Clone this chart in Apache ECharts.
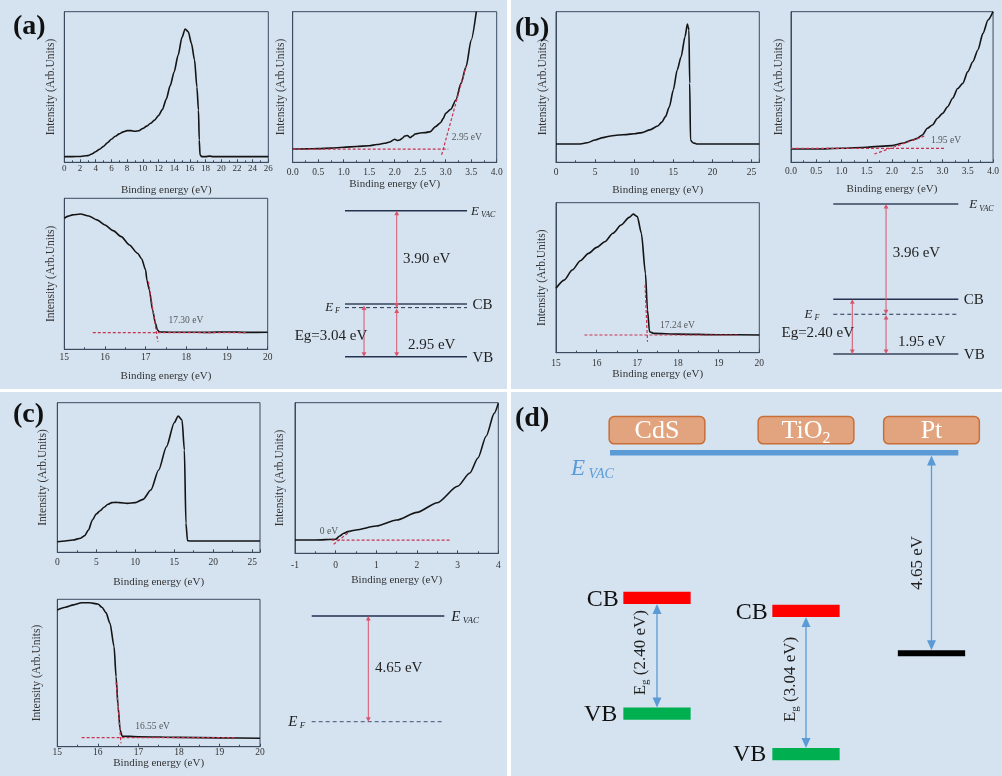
<!DOCTYPE html>
<html><head><meta charset="utf-8">
<script src="https://cdn.jsdelivr.net/npm/echarts@6/dist/echarts.min.js"></script>
<style>
html,body{margin:0;padding:0;background:#ffffff;width:1002px;height:776px;overflow:hidden;}
.p{position:absolute;background:#d5e3f1;}
</style></head><body>
<div id="pa" class="p" style="left:0;top:0;width:507px;height:389px"></div>
<div id="pb" class="p" style="left:511px;top:0;width:491px;height:389px"></div>
<div id="pc" class="p" style="left:0;top:392px;width:507px;height:384px"></div>
<div id="pd" class="p" style="left:511px;top:392px;width:491px;height:384px"></div>
<script>
// ---------------- DATA ----------------
const xTitle = 'Binding energy (eV)';
const yTitle = 'Intensity (Arb.Units)';

// (a) TiO2 UPS
const a1Data = [[0,3.8],[1,3.8],[2,3.9],[2.5,4.2],[3,4.4],[3.5,5.5],[4,7],[4.5,8.7],[5,10.6],[5.5,13],[6,15.3],[6.5,17.3],[7,18.9],[7.5,20.2],[8,21],[8.5,21],[9,20.6],[9.5,20.9],[10,22.4],[10.5,24],[11,25.9],[11.5,28],[12,31],[12.5,35],[13,42],[13.5,51],[14,60],[14.5,71],[15,83],[15.4,88.5],[15.8,86.7],[16.2,79],[16.6,68],[16.9,50],[17.1,34.7],[17.2,14.8],[17.3,4.9],[17.5,3.8],[18,3.8],[18.5,4.1],[19,3.8],[20,3.8],[22,3.8],[24,3.8],[26,3.8]];
const a2Data = [[0,8.8],[0.25,8.9],[0.5,9.1],[0.75,9.4],[1.0,10],[1.25,10.5],[1.5,11],[1.65,11.8],[1.8,12.6],[1.9,13.5],[2.0,15.3],[2.05,14.5],[2.1,14.8],[2.15,16],[2.2,17.5],[2.25,17.8],[2.3,16.4],[2.35,17.5],[2.4,18.8],[2.5,19.5],[2.6,19.7],[2.7,20.4],[2.8,23.7],[2.9,26.3],[2.95,29],[3.0,32.5],[3.1,35.2],[3.2,41.4],[3.3,52.4],[3.4,63.5],[3.5,81.2],[3.6,100]];
const a2Base = [[0,8.8],[3.05,8.8]];
const a2Tangent = [[2.92,4.9],[3.4,64]];
const a2Onset = 2.95;
const a3Data = [[15,86.8],[15.1,88.2],[15.2,89],[15.4,89.6],[15.6,88.3],[15.8,85.7],[16,82.3],[16.2,78.6],[16.4,74.6],[16.6,69.1],[16.8,63.6],[16.9,60],[17,52.5],[17.03,45.9],[17.09,39.3],[17.17,26],[17.24,17.2],[17.29,12.8],[17.34,11.5],[17.6,11.3],[18,11.3],[18.5,11.2],[19,11.5],[19.5,11.2],[20,11.3]];
const a3Base = [[15.7,11],[19.5,11]];
const a3Tangent = [[17.07,44.8],[17.3,5]];
const a3Cutoff = 17.30;
const aWorkFunction = 3.90, aVBM = 2.95, aEg = 3.04;

// (b) CdS UPS
const b1Data = [[0,12.2],[2,12.2],[3,12.2],[3.5,12.5],[4,13],[5,14.8],[6,16.4],[7,17.5],[8,18.1],[9,18.4],[10,19],[11,19.7],[12,21.5],[13,24.1],[13.5,26.5],[14,30.3],[14.5,36.9],[15,48],[15.5,61.3],[16,70.1],[16.5,83.4],[16.8,91.8],[16.9,90],[17.0,87.8],[17.1,52.4],[17.2,14.8],[17.5,13],[18,12.2],[20,12.2],[22,12.2],[24,12.2],[26,12.2]];
const b2Data = [[0,8.8],[0.5,8.8],[1.0,9.3],[1.5,10],[2.0,11.1],[2.2,12.6],[2.4,14.8],[2.5,15.9],[2.6,18.1],[2.7,22.6],[2.8,24.8],[2.9,29.2],[3.0,32.5],[3.1,36.9],[3.2,42.5],[3.3,49],[3.4,52.4],[3.5,60.2],[3.6,66.8],[3.7,74.6],[3.8,85.6],[3.9,94.5],[4.0,100]];
const b2Base = [[0,9.3],[3.05,9.3]];
const b2Tangent = [[1.65,5.5],[2.65,17.5]];
const b2Onset = 1.95;
const b3Data = [[15,42.9],[15.2,48.4],[15.4,55.1],[15.6,61.3],[15.8,66.2],[16,70.2],[16.2,74],[16.4,79.6],[16.6,85.1],[16.8,90.2],[16.9,92.4],[17,90.7],[17.1,79.6],[17.2,52.9],[17.25,28.4],[17.3,14],[17.4,12.9],[18,12.4],[19,12],[20,11.8]];
const b3Base = [[15.7,11.8],[19.5,11.8]];
const b3Tangent = [[17.19,45.1],[17.25,7.3]];
const b3Cutoff = 17.24;
const bWorkFunction = 3.96, bVBM = 1.95, bEg = 2.40;

// (c) Pt UPS
const c1Data = [[0,7.1],[1,7.6],[2,8.2],[3,9.4],[3.5,11.1],[4,14.9],[4.5,21.6],[5,25.6],[5.5,27.8],[6,30.1],[6.5,32.1],[7,33.2],[7.5,33.4],[8,33.2],[9,32.7],[10,33.2],[11,35.4],[12,41.6],[13,55],[14,70.6],[15,86.6],[15.5,91.1],[16,88.4],[16.3,68.4],[16.5,19.4],[16.7,7.8],[17,7.6],[20,7.6],[23,7.6],[26,7.6]];
const c2Data = [[-1,8.8],[-0.5,8.8],[0,9.3],[0.1,11.5],[0.2,13.3],[0.3,14.4],[0.5,15.5],[1.0,18.1],[1.5,22.1],[2.0,27.2],[2.5,33.6],[3.0,44.5],[3.3,53.3],[3.5,63.3],[3.7,77.7],[3.9,92.9],[4.0,99.6]];
const c2Base = [[-0.1,8.8],[2.8,8.8]];
const c2Tangent = [[-0.05,6],[0.35,14.4]];
const c2Onset = 0;
const c3Data = [[15,92.8],[15.2,94.6],[15.4,96.2],[15.6,97.7],[15.8,97.7],[16,96.8],[16.1,94.6],[16.2,91],[16.3,83.7],[16.4,67.9],[16.45,47.5],[16.5,27.1],[16.55,11.3],[16.6,7.2],[17,6.8],[18,6.3],[19,6],[20,5.7]];
const c3Base = [[15.6,6.1],[19.4,6.1]];
const c3Tangent = [[16.45,43.7],[16.57,2.3]];
const c3Cutoff = 16.55;
const cWorkFunction = 4.65;

// (d) band alignment (eV vs vacuum), derived from panels a-c
const dMaterials = ['CdS', 'TiO2', 'Pt'];
const dCB = [-(bWorkFunction + bVBM) + bEg, -(aWorkFunction + aVBM) + aEg];
const dVB = [-(bWorkFunction + bVBM), -(aWorkFunction + aVBM)];
const dEg = [bEg, aEg];
const dPt = -cWorkFunction;

// ---------------- STYLE / LAYOUT ----------------
const SERIF = '"Liberation Serif","Times New Roman",serif';
const AX = '#3b4a5f';
const INK = '#1f1f1f';
const RED = '#c8334d';
const ARW = '#d9536b';
const fmt = v => v.toFixed(2) + ' eV';

function subText(main, sub, size, color, italic, padTop) {
  return {
    text: '{m|' + main + '}{g| }{s|' + sub + '}',
    rich: {
      m: {fontSize: size, fontStyle: italic ? 'italic' : 'normal', fontFamily: SERIF, fill: color},
      g: {fontSize: size * 0.6, fontFamily: SERIF, fill: color},
      s: {fontSize: Math.round(size * 0.62), fontStyle: italic ? 'italic' : 'normal', fontFamily: SERIF, fill: color, padding: [padTop, 0, 0, 0]}
    }
  };
}

function spectrum(g, c) {
  const iv = c.interval;
  const grid = {left: c.grid[0], top: c.grid[1], width: c.grid[2], height: c.grid[3], show: true, borderColor: AX, borderWidth: 1, backgroundColor: 'transparent'};
  const xAxis = {
    gridIndex: g, type: 'value', min: c.min, max: c.max, interval: iv,
    axisLine: {show: true, onZero: false, lineStyle: {color: AX, width: 1}},
    axisTick: {show: true, inside: true, length: 3, lineStyle: {color: AX}},
    minorTick: {show: true, splitNumber: c.minor, length: 2, lineStyle: {color: AX}},
    axisLabel: {fontSize: c.fs || 9.5, fontFamily: SERIF, color: '#333', margin: c.lm,
      formatter: v => Math.abs(v / iv - Math.round(v / iv)) < 1e-6 ? v.toFixed(c.dec) : ''},
    splitLine: {show: false},
    name: xTitle, nameLocation: 'middle', nameGap: c.xg,
    nameTextStyle: {fontSize: 11, fontFamily: SERIF, color: '#333'}
  };
  const yAxis = {
    gridIndex: g, type: 'value', min: 0, max: 100,
    axisLine: {show: true, onZero: false, lineStyle: {color: AX, width: 1}},
    axisTick: {show: false}, axisLabel: {show: false}, splitLine: {show: false},
    name: yTitle, nameLocation: 'middle', nameGap: c.yg, nameRotate: 90,
    nameTextStyle: {fontSize: 11.5, fontFamily: SERIF, color: '#333'}
  };
  const series = [{
    type: 'line', xAxisIndex: g, yAxisIndex: g, data: c.data, symbol: 'none',
    smooth: 0.25, smoothMonotone: 'x', lineStyle: {color: '#141414', width: 1.6}, z: 3, silent: true
  }];
  if (c.base) {
    [c.base, c.tangent].forEach(d => series.push({
      type: 'line', xAxisIndex: g, yAxisIndex: g, data: d, symbol: 'none',
      lineStyle: {color: RED, width: 1.2, type: [3, 2]}, z: 4, silent: true
    }));
    series.push({
      type: 'scatter', xAxisIndex: g, yAxisIndex: g, data: [c.labelAt], symbolSize: 0, silent: true, z: 5,
      label: {show: true, position: 'right', distance: 0, formatter: c.label, fontSize: 9.5, fontFamily: SERIF, color: '#333'}
    });
  }
  return {grid, xAxis, yAxis, series};
}

const LSTYLE = {
  dark: {color: '#22324f', width: 1.4},
  gray: {color: '#5d6c80', width: 2},
  dash: {color: '#22324f', width: 1, dash: [4, 3]},
  grayDash: {color: '#3f5272', width: 1, dash: [4, 3]}
};

function arrowEls(x, ya, yb, color, lw, hl, hw) {
  const y1 = Math.min(ya, yb), y2 = Math.max(ya, yb);
  return [
    {type: 'line', shape: {x1: x, y1: y1 + hl * 0.5, x2: x, y2: y2 - hl * 0.5}, style: {stroke: color, lineWidth: lw}},
    {type: 'polygon', shape: {points: [[x, y1], [x - hw, y1 + hl], [x + hw, y1 + hl]]}, style: {fill: color}},
    {type: 'polygon', shape: {points: [[x, y2], [x - hw, y2 - hl], [x + hw, y2 - hl]]}, style: {fill: color}}
  ];
}

function diagram(g, c) {
  const grid = {left: c.grid[0], top: c.grid[1], width: c.grid[2], height: c.grid[3], show: false};
  const xAxis = {gridIndex: g, type: 'value', min: 0, max: 100, show: false};
  const yAxis = {gridIndex: g, type: 'value', min: 0, max: 100, show: false};
  const levelSeries = {
    type: 'custom', xAxisIndex: g, yAxisIndex: g, silent: true, z: 5,
    data: c.levels.map(l => [0, l.y]),
    renderItem(params, api) {
      const l = c.levels[params.dataIndex];
      const p1 = api.coord([0, l.y]), p2 = api.coord([100, l.y]);
      const st = LSTYLE[l.style];
      const ch = [{type: 'line', shape: {x1: p1[0], y1: p1[1], x2: p2[0], y2: p2[1]},
        style: {stroke: st.color, lineWidth: st.width, lineDash: st.dash}}];
      if (l.right) {
        const t = typeof l.right === 'string' ? {text: l.right, fontSize: 15, fontFamily: SERIF, fill: INK} : l.right;
        ch.push({type: 'text', x: p2[0] + l.rdx, y: p2[1] + 1, style: Object.assign({align: 'left', verticalAlign: 'middle'}, t)});
      }
      if (l.left) {
        ch.push({type: 'text', x: p1[0] - l.ldx, y: p1[1], style: Object.assign({align: 'right', verticalAlign: 'middle'}, l.left)});
      }
      return {type: 'group', children: ch};
    }
  };
  const arrowSeries = {
    type: 'custom', xAxisIndex: g, yAxisIndex: g, silent: true, z: 6,
    data: c.arrows.map(a => [a.x, a.y1]),
    renderItem(params, api) {
      const a = c.arrows[params.dataIndex];
      const p1 = api.coord([a.x, a.y1]), p2 = api.coord([a.x, a.y2]);
      const ch = arrowEls(p1[0], p1[1], p2[1], ARW, 1, 4.5, 2.4);
      const lp = api.coord([a.lx, a.ly]);
      ch.push({type: 'text', x: lp[0], y: lp[1], style: {text: a.label, fontSize: 15, fontFamily: SERIF, fill: INK, align: a.align || 'left', verticalAlign: 'middle'}});
      return {type: 'group', children: ch};
    }
  };
  return {grid, xAxis, yAxis, series: [levelSeries, arrowSeries]};
}

function build(parts, titleCfg) {
  const opt = {animation: false, backgroundColor: 'transparent', grid: [], xAxis: [], yAxis: [], series: [],
    title: {text: titleCfg.text, left: titleCfg.left, top: titleCfg.top, padding: 0,
      textStyle: {fontFamily: SERIF, fontWeight: 'bold', fontSize: 28, color: '#111'}}};
  parts.forEach(p => { opt.grid.push(p.grid); opt.xAxis.push(p.xAxis); opt.yAxis.push(p.yAxis); opt.series.push(...p.series); });
  return opt;
}

// ---------------- PANEL (a) ----------------
const evacA = subText('E', 'VAC', 13, INK, true, 7);
const efA = subText('E', 'F', 13, INK, true, 7);
const chartA = echarts.init(document.getElementById('pa'), null, {renderer: 'canvas'});
chartA.setOption(build([
  spectrum(0, {grid: [64.3, 11.7, 204, 150.6], min: 0, max: 26, interval: 2, minor: 2, dec: 0, lm: 1.5, xg: 22, yg: 7.5, fs: 9, data: a1Data}),
  spectrum(1, {grid: [292.7, 11.7, 204, 150.6], min: 0, max: 4, interval: 0.5, minor: 2, dec: 1, lm: 5, xg: 16, yg: 6,
    data: a2Data, base: a2Base, tangent: a2Tangent, label: fmt(a2Onset), labelAt: [3.12, 16.6]}),
  spectrum(2, {grid: [64.3, 198.3, 203.4, 151], min: 15, max: 20, interval: 1, minor: 2, dec: 0, lm: 3, xg: 21, yg: 7.5,
    data: a3Data, base: a3Base, tangent: a3Tangent, label: fmt(a3Cutoff), labelAt: [17.56, 19]}),
  diagram(3, {grid: [345, 210.7, 122, 146],
    levels: [
      {y: 100, style: 'dark', right: evacA, rdx: 4},
      {y: 36.1, style: 'gray', right: 'CB', rdx: 5.5},
      {y: 33.6, style: 'dash', left: efA, ldx: 5},
      {y: 0, style: 'dark', right: 'VB', rdx: 5.5}
    ],
    arrows: [
      {x: 42.4, y1: 100, y2: 33.6, label: fmt(aWorkFunction), lx: 47.5, ly: 66.8},
      {x: 42.4, y1: 33.0, y2: 0, label: fmt(aVBM), lx: 51.6, ly: 8},
      {x: 15.6, y1: 35, y2: 0, label: 'Eg=' + fmt(aEg), lx: -11.5, ly: 14.4, align: 'center'}
    ]})
], {text: '(a)', left: 13, top: 13}));

// ---------------- PANEL (b) ----------------
const evacB = subText('E', 'VAC', 13, INK, true, 7);
const efB = subText('E', 'F', 13, INK, true, 7);
const chartB = echarts.init(document.getElementById('pb'), null, {renderer: 'canvas'});
chartB.setOption(build([
  spectrum(0, {grid: [45, 11.7, 203.3, 150.6], min: 0, max: 26, interval: 5, minor: 2, dec: 0, lm: 5.5, xg: 22, yg: 6.7, data: b1Data}),
  spectrum(1, {grid: [280, 11.7, 204, 150.6], min: 0, max: 4, interval: 0.5, minor: 2, dec: 1, lm: 4.5, xg: 21.5, yg: 6,
    data: b2Data, base: b2Base, tangent: b2Tangent, label: fmt(b2Onset), labelAt: [2.77, 14.8]}),
  spectrum(2, {grid: [45, 202.7, 203.3, 150], min: 15, max: 20, interval: 1, minor: 2, dec: 0, lm: 5.5, xg: 16, yg: 7.7,
    data: b3Data, base: b3Base, tangent: b3Tangent, label: fmt(b3Cutoff), labelAt: [17.56, 18.4]}),
  diagram(3, {grid: [322.3, 204, 125, 150],
    levels: [
      {y: 100, style: 'gray', right: evacB, rdx: 11},
      {y: 36.5, style: 'dark', right: 'CB', rdx: 5.5},
      {y: 26.5, style: 'dash', left: efB, ldx: 14},
      {y: 0, style: 'gray', right: 'VB', rdx: 5.5}
    ],
    arrows: [
      {x: 42.2, y1: 100, y2: 26.5, label: fmt(bWorkFunction), lx: 47.5, ly: 67.5},
      {x: 42.2, y1: 26, y2: 0, label: fmt(bVBM), lx: 51.8, ly: 8.2},
      {x: 15.2, y1: 36.5, y2: 0, label: 'Eg=' + fmt(bEg), lx: -12.4, ly: 14.2, align: 'center'}
    ]})
], {text: '(b)', left: 4, top: 15}));

// ---------------- PANEL (c) ----------------
const evacC = subText('E', 'VAC', 15, INK, true, 8);
const efC = subText('E', 'F', 15, INK, true, 8);
const chartC = echarts.init(document.getElementById('pc'), null, {renderer: 'canvas'});
chartC.setOption(build([
  spectrum(0, {grid: [57.3, 10.7, 202.7, 149.6], min: 0, max: 26, interval: 5, minor: 2, dec: 0, lm: 5.5, xg: 24, yg: 8, data: c1Data}),
  spectrum(1, {grid: [295, 10.7, 203.3, 150.6], min: -1, max: 4, interval: 1, minor: 2, dec: 0, lm: 7, xg: 21, yg: 9,
    data: c2Data, base: c2Base, tangent: c2Tangent, label: c2Onset + ' eV', labelAt: [-0.39, 14.4]}),
  spectrum(2, {grid: [57.3, 207.3, 202.7, 147.4], min: 15, max: 20, interval: 1, minor: 2, dec: 0, lm: 0.5, xg: 8, yg: 14.5,
    data: c3Data, base: c3Base, tangent: c3Tangent, label: fmt(c3Cutoff), labelAt: [16.92, 13.6]}),
  diagram(3, {grid: [311.7, 224, 132.6, 105.7],
    levels: [
      {y: 100, style: 'dark', right: evacC, rdx: 7},
      {y: 0, style: 'grayDash', left: efC, ldx: 6.5}
    ],
    arrows: [
      {x: 42.7, y1: 100, y2: 0, label: fmt(cWorkFunction), lx: 47.7, ly: 50.5}
    ]})
], {text: '(c)', left: 13, top: 9}));

// ---------------- PANEL (d) ----------------
const D = {
  colX: [146, 295, 420.5],       // column centres (px within panel)
  vacSpan: [99, 447.3],          // E_VAC bar extent (px)
  barW: 67.3, barH: 12.3, ptH: 6,
  boxW: 95.7, boxH: 27.3, boxOff: 22.5,
  blue: '#5b9bd5'
};
const dLevels = [
  {col: 0, kind: 'CB', e: dCB[0]}, {col: 0, kind: 'VB', e: dVB[0]},
  {col: 1, kind: 'CB', e: dCB[1]}, {col: 1, kind: 'VB', e: dVB[1]},
  {col: 2, kind: 'Pt', e: dPt}
];
const dArrows = [
  {col: 0, from: dCB[0], to: dVB[0], t0: 0, t1: 0, label: '{n|E}{s|g}{n| (' + dEg[0].toFixed(2) + ' eV)}', lx: -16.5, ly: -3},
  {col: 1, from: dCB[1], to: dVB[1], t0: 0, t1: 0, label: '{n|E}{s|g}{n| (' + dEg[1].toFixed(2) + ' eV)}', lx: -15, ly: -3},
  {col: 2, from: 0, to: dPt, t0: 2.8, t1: -3, label: '{n|' + cWorkFunction.toFixed(2) + ' eV}', lx: -13.7, ly: 10}
];
const richD = {
  n: {fontSize: 17, fontFamily: SERIF, fill: INK},
  s: {fontSize: 11, fontFamily: SERIF, fill: INK, padding: [9, 0, 0, 0]}
};
const chartD = echarts.init(document.getElementById('pd'), null, {renderer: 'canvas'});
chartD.setOption({
  animation: false, backgroundColor: 'transparent',
  title: {text: '(d)', left: 4, top: 13, padding: 0, textStyle: {fontFamily: SERIF, fontWeight: 'bold', fontSize: 28, color: '#111'}},
  grid: {left: 0, top: 17.6, width: 491, height: 368.9, show: false},
  xAxis: {type: 'value', min: 0, max: 491, show: false},
  yAxis: {type: 'value', min: -7.5, max: 1, show: false},
  series: [
    { // vacuum level + material boxes
      type: 'custom', silent: true, z: 3,
      data: dMaterials.map((m, i) => [D.colX[i], 0]),
      renderItem(params, api) {
        const i = params.dataIndex;
        const c = api.coord([D.colX[i], 0]);
        const ch = [];
        if (i === 0) {
          const a = api.coord([D.vacSpan[0], 0]), b = api.coord([D.vacSpan[1], 0]);
          ch.push({type: 'line', shape: {x1: a[0], y1: a[1], x2: b[0], y2: b[1]}, style: {stroke: D.blue, lineWidth: 5.5}});
          const ev = subText('E', 'VAC', 23, D.blue, true, 12);
          ch.push({type: 'text', x: a[0] - 39, y: a[1] + 16, style: Object.assign({align: 'left', verticalAlign: 'middle'}, ev)});
        }
        const bx = c[0] - D.boxW / 2, by = c[1] - D.boxOff - D.boxH / 2;
        ch.push({type: 'rect', shape: {x: bx, y: by, width: D.boxW, height: D.boxH, r: 5},
          style: {fill: '#e2a47f', stroke: '#c86e38', lineWidth: 1.5}});
        const name = dMaterials[i];
        const txt = name === 'TiO2' ? '{m|TiO}{s|2}' : '{m|' + name + '}';
        ch.push({type: 'text', x: c[0], y: by + D.boxH / 2 + 1, style: {text: txt, align: 'center', verticalAlign: 'middle',
          rich: {m: {fontSize: 26, fontFamily: SERIF, fill: '#ffffff'}, s: {fontSize: 16, fontFamily: SERIF, fill: '#ffffff', padding: [15, 0, 0, 0]}}}});
        return {type: 'group', children: ch};
      }
    },
    { // band levels
      type: 'custom', silent: true, z: 4,
      data: dLevels.map(l => [D.colX[l.col], l.e]),
      renderItem(params, api) {
        const l = dLevels[params.dataIndex];
        const c = api.coord([D.colX[l.col], l.e]);
        const x0 = c[0] - D.barW / 2;
        const ch = [];
        if (l.kind === 'CB') {
          ch.push({type: 'rect', shape: {x: x0, y: c[1] - D.barH, width: D.barW, height: D.barH}, style: {fill: '#ff0000'}});
          ch.push({type: 'text', x: x0 - 4.5, y: c[1] - D.barH / 2 + 2, style: {text: 'CB', fontSize: 24, fontFamily: SERIF, fill: '#111', align: 'right', verticalAlign: 'middle'}});
        } else if (l.kind === 'VB') {
          ch.push({type: 'rect', shape: {x: x0, y: c[1], width: D.barW, height: D.barH}, style: {fill: '#00b050'}});
          ch.push({type: 'text', x: x0 - 6, y: c[1] + D.barH / 2 + 1, style: {text: 'VB', fontSize: 24, fontFamily: SERIF, fill: '#111', align: 'right', verticalAlign: 'middle'}});
        } else {
          ch.push({type: 'rect', shape: {x: x0, y: c[1] - D.ptH / 2, width: D.barW, height: D.ptH}, style: {fill: '#000000'}});
        }
        return {type: 'group', children: ch};
      }
    },
    { // arrows
      type: 'custom', silent: true, z: 5,
      data: dArrows.map(a => [D.colX[a.col], a.from]),
      renderItem(params, api) {
        const a = dArrows[params.dataIndex];
        const p1 = api.coord([D.colX[a.col], a.from]), p2 = api.coord([D.colX[a.col], a.to]);
        const ch = arrowEls(p1[0], p1[1] + a.t0, p2[1] + a.t1, D.blue, 1.3, 10, 4.5);
        ch.push({type: 'text', x: p1[0] + a.lx, y: (p1[1] + p2[1]) / 2 + a.ly, rotation: Math.PI / 2,
          style: {text: a.label, rich: richD, align: 'center', verticalAlign: 'middle'}});
        return {type: 'group', children: ch};
      }
    }
  ]
});
</script>
</body></html>
